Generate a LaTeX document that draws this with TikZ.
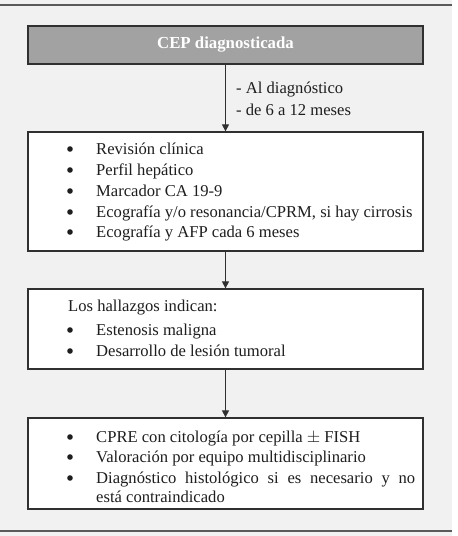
\documentclass[tikz,border=0pt]{standalone}
\usepackage{fontspec}
\setmainfont{Liberation Serif}
\usetikzlibrary{arrows.meta}
\definecolor{bgc}{HTML}{F1F1F1}
\definecolor{titlefill}{HTML}{A2A2A2}
\definecolor{edge}{HTML}{303030}
\definecolor{rule}{HTML}{5A5A5A}
\definecolor{ink}{HTML}{1E1E1E}
\begin{document}
\begin{tikzpicture}[x=1pt,y=-1pt,
  box/.style={draw=edge, line width=1.3pt, fill=white, minimum width=395pt, inner sep=0pt, anchor=center},
  titlebox/.style={box, fill=titlefill, font=\fontsize{16.8}{19}\selectfont\bfseries, text=white},
  txt/.style={anchor=base west, inner sep=0pt, font=\fontsize{16.6}{20}\selectfont, text=ink},
  bul/.style={circle, fill=ink, inner sep=0pt, minimum size=5.6pt},
  conn/.style={draw=edge, line width=1.2pt, -{Triangle[width=7pt,length=7pt]}}
]
\useasboundingbox (0,0) rectangle (458,536);
\fill[bgc] (0,0) rectangle (452,536);
\draw[rule, line width=1.4pt] (0,5) coordinate (tl) -- (452,5) coordinate (tr);
\draw[rule, line width=1.4pt] (0,531) coordinate (bl) -- (452,531) coordinate (br);

\node[titlebox, minimum height=38pt] (t) at (225.5,45) {CEP diagnosticada};
\node[box, minimum height=119pt] (b2) at (225.5,191.5) {};
\node[box, minimum height=80pt] (b3) at (225.5,329) {};
\node[box, minimum height=91pt] (b4) at (225.5,463.5) {};

\draw[conn] (t.south) -- (b2.north);
\draw[conn] (b2.south) -- (b3.north);
\draw[conn] (b3.south) -- (b4.north);

\node[txt] (l1) at (236,93) {- Al diagnóstico};
\node[txt] (l2) at (236,115) {- de 6 a 12 meses};

% box 2
\node[bul] (u1) at (70,149) {};
\node[txt] (i1) at (96,154) {Revisión clínica};
\node[bul] (u2) at (70,170) {};
\node[txt] (i2) at (96,175) {Perfil hepático};
\node[bul] (u3) at (70,191) {};
\node[txt] (i3) at (96,196) {Marcador CA 19-9};
\node[bul] (u4) at (70,212) {};
\node[txt] (i4) at (96,217) {Ecografía y/o resonancia/CPRM, si hay cirrosis};
\node[bul] (u5) at (70,232) {};
\node[txt] (i5) at (96,237) {Ecografía y AFP cada 6 meses};

% box 3
\node[txt] (h0) at (68,311) {Los hallazgos indican:};
\node[bul] (v1) at (70,330) {};
\node[txt] (h1) at (96,335) {Estenosis maligna};
\node[bul] (v2) at (70,351) {};
\node[txt] (h2) at (96,356) {Desarrollo de lesión tumoral};

% box 4
\node[bul] (w1) at (70,437) {};
\node[txt] (k1) at (96,442) {CPRE con citología por cepilla $\pm$ FISH};
\node[bul] (w2) at (70,457) {};
\node[txt] (k2) at (96,462) {Valoración por equipo multidisciplinario};
\node[bul] (w3) at (70,478) {};
\node[txt] (k3) at (96,483) {\makebox[319pt][s]{Diagnóstico histológico si es necesario y no}};
\node[txt] (k4) at (96,502) {está contraindicado};
\end{tikzpicture}
\end{document}
